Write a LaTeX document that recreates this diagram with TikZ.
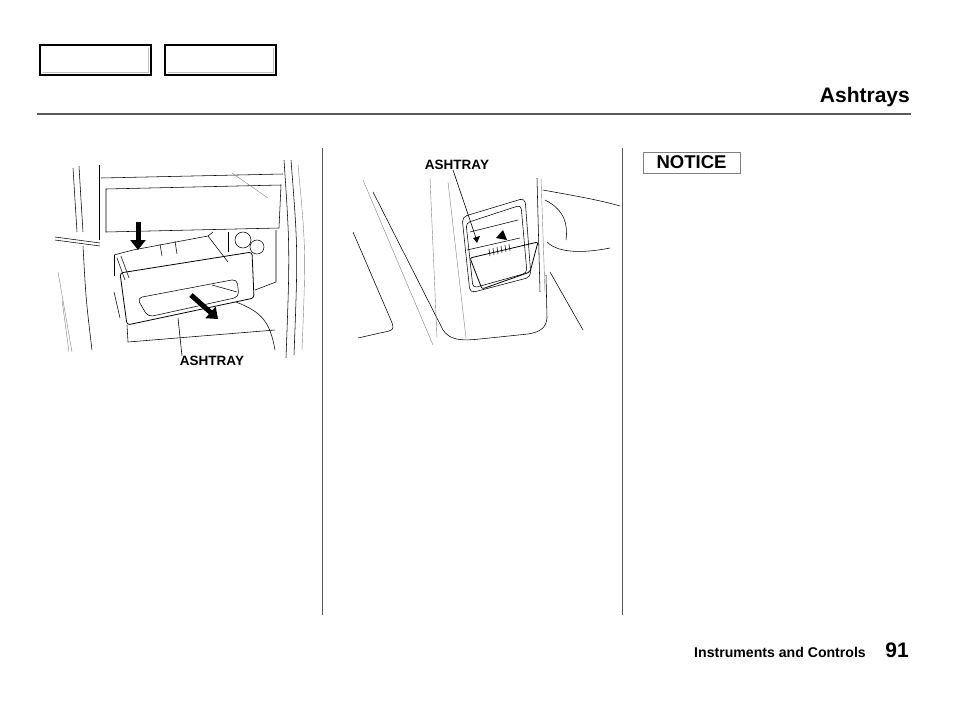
\documentclass[tikz,border=0pt]{standalone}
\usepackage{fontspec}
\setmainfont{Liberation Sans}
\usetikzlibrary{arrows.meta}

\definecolor{rulegray}{gray}{0.35}
\definecolor{shadegray}{gray}{0.75}

\tikzset{
  sketch/.style={line width=0.55pt},
  faint/.style={line width=0.4pt, gray},
  tabbox/.style={draw, line width=1.6pt, minimum width=111pt, minimum height=30pt, inner sep=0pt},
  callout/.style={font=\fontsize{13.5}{13.5}\selectfont\bfseries, inner sep=0pt},
  leader/.style={line width=0.6pt},
  bigarrow/.style={line width=5pt, -{Triangle[width=15pt,length=10pt]}}
}

\begin{document}
\begin{tikzpicture}[x=1pt,y=-1pt]
\useasboundingbox (0,0) rectangle (954,702);

% tabs, title and rule
\node[tabbox] (tabA) at (95.5,60) {};
\node[tabbox] (tabB) at (220.5,60) {};
\draw[shadegray, line width=1.5pt] (148.5,48) -- (148.5,72.5) -- (43,72.5);
\draw[shadegray, line width=1.5pt] (273.5,48) -- (273.5,72.5) -- (168,72.5);
\node[anchor=base east, font=\fontsize{21}{21}\selectfont\bfseries, inner sep=0pt] (title) at (910,102) {Ashtrays};
\draw[rulegray, line width=1.2pt] (37,114) -- (911,114);

% column separators
\draw[rulegray, line width=1pt] (322,148) -- (322,615);
\draw[rulegray, line width=1pt] (622,148) -- (622,615);

% left picture: console with drawer pulled out
\draw[sketch] (73,168) .. controls (75,200) .. (77,232);
\draw[sketch] (79,166) .. controls (81,200) .. (83,232);
\draw[sketch] (55,237) -- (100,243);
\draw[sketch] (55,240) -- (100,246);
\draw[sketch] (83,246) .. controls (86,300) .. (92,350);
\draw[faint] (58,272) -- (72,352);
\draw[faint] (62,300) -- (69,352);
\draw[sketch] (99,165) -- (99,240);
\draw[sketch] (101,178) -- (283,174);
\draw[sketch] (106,189) -- (281,185) -- (279,228) -- (106,232) -- cycle;
\draw[faint] (232,173) -- (268,198);
\draw[sketch] (284,160) .. controls (290,250) .. (286,358);
\draw[sketch] (291,160) .. controls (298,250) .. (294,355);
\draw[faint] (298,165) .. controls (306,250) .. (302,350);
\draw[sketch] (228,232) -- (228,252);
\draw[sketch] (276,230) -- (276,282) -- (255,290);
\draw[sketch] (243,240) circle (8);
\draw[sketch] (257,247) circle (7);
\draw[sketch] (114,255) -- (133,250) -- (208,236) -- (213,232);
\draw[sketch] (208,236) -- (228,262);
\draw[sketch] (114,255) -- (114,276);
\draw[sketch] (117,258) -- (125,280);
\draw[sketch] (121,256) -- (129,278);
\draw[sketch] (114,292) -- (120,318);
\draw[sketch] (160,244) -- (162,256);
\draw[sketch] (175,241) -- (177,254);
\draw[sketch, line width=0.8pt, rounded corners=3] (120,273) -- (252,252) -- (254,298) -- (127,325) -- cycle;
\draw[sketch, rounded corners=5] (137,298) -- (237,279) -- (239,297) -- (148,317) -- cycle;
\draw[sketch] (212,285) -- (237,292);
\draw[sketch] (127,325) -- (128,342) -- (275,330);
\draw[sketch] (236,302) .. controls (262,312) and (270,322) .. (275,350);
\draw[bigarrow] (138,222) -- (138,250);
\draw[bigarrow] (191,295) -- (218,319);

\node[callout] (ashL) at (212,361) {ASHTRAY};
\coordinate (ashLtip) at (178,318);
\draw[leader] ([xshift=-30pt]ashL.north) -- (ashLtip);

% middle picture: console side with rear drawer
\draw[sketch] (373,192) -- (443,330) .. controls (450,340) and (460,341) .. (480,339) -- (528,334) .. controls (540,332) and (546,328) .. (547,318) -- (546,275);
\draw[faint] (363,180) -- (433,345);
\draw[sketch] (353,232) -- (390,318) .. controls (395,330) .. (380,333) -- (358,338);
\draw[faint] (430,178) -- (437,338);
\draw[faint] (448,182) -- (466,338);
\draw[sketch] (537,178) -- (540,292);
\draw[faint] (541,178) -- (545,292);
\draw[sketch, rounded corners=5] (462,217) -- (525,198) -- (531,277) -- (470,293) -- cycle;
\draw[sketch, rounded corners=4] (466,223) -- (521,205) -- (527,273) -- (473,288) -- cycle;
\draw[sketch] (467,250) -- (520,238);
\draw[sketch] (470,232) -- (518,220);
\draw[sketch, line width=0.8pt, rounded corners=2] (470,258) -- (538,242) -- (530,272) -- (482,289) -- cycle;
\foreach \i in {0,...,5}
  \draw[sketch] (489+4*\i,249-\i) -- (490+4*\i,256-\i);
\fill (496,238) -- (503,230) -- (507,240) -- cycle;
\fill (473,238) -- (480,236) -- (477,243) -- cycle;
\draw[sketch] (543,190) .. controls (570,195) and (600,200) .. (620,206);
\draw[sketch] (545,200) .. controls (565,210) and (568,225) .. (566,240);
\draw[sketch] (547,242) .. controls (560,255) and (590,252) .. (610,248);
\draw[sketch] (550,272) -- (583,330);

\node[callout] (ashM) at (457,165) {ASHTRAY};
\coordinate (ashMtip) at (476,238);
\draw[leader] ([xshift=-4pt]ashM.south) -- (ashMtip);

% right column
\node[draw=gray, line width=0.6pt, minimum width=97pt, minimum height=21pt, inner sep=0pt,
      font=\fontsize{18.5}{18.5}\selectfont\bfseries] (notice) at (691.5,162.5) {NOTICE};

% footer
\node[anchor=base east, font=\fontsize{14.1}{14}\selectfont\bfseries, inner sep=0pt] (section) at (866,657) {Instruments and Controls};
\node[anchor=base east, font=\fontsize{21}{21}\selectfont\bfseries, inner sep=0pt] (page) at (909,657) {91};
\end{tikzpicture}
\end{document}
